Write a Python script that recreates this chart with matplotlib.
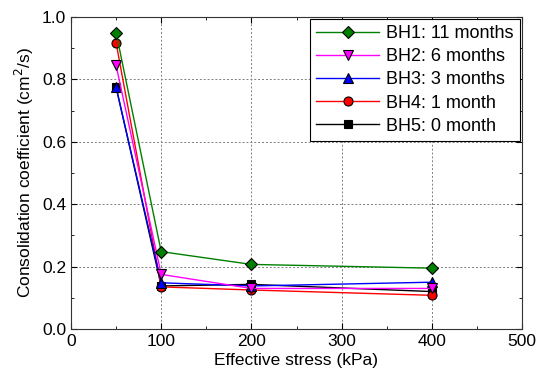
import matplotlib
matplotlib.use('Agg')
import matplotlib.pyplot as plt
from matplotlib.ticker import MultipleLocator, FormatStrFormatter

plt.rcParams['font.family'] = ['Liberation Sans', 'DejaVu Sans']

stress = [50, 100, 200, 400]
bh1 = [0.950, 0.248, 0.207, 0.195]
bh2 = [0.845, 0.175, 0.130, 0.130]
bh3 = [0.775, 0.148, 0.138, 0.150]
bh4 = [0.917, 0.135, 0.125, 0.108]
bh5 = [0.775, 0.138, 0.143, 0.120]

labels = ['BH1: 11 months', 'BH2: 6 months', 'BH3: 3 months', 'BH4: 1 month', 'BH5: 0 month']
series = [bh1, bh2, bh3, bh4, bh5]
colors = ['green', 'magenta', 'blue', 'red', 'black']
markers = ['D', 'v', '^', 'o', 's']
msizes = [6.5, 7.5, 7.5, 6.5, 5.5]

fig = plt.figure(figsize=(5.36, 3.78), dpi=100)
ax = fig.add_axes([71 / 536, 49 / 378, 451 / 536, 312 / 378])

# dibujar de atras hacia adelante para que BH1 quede encima
for i in reversed(range(len(series))):
    ax.plot(stress, series[i], color=colors[i], marker=markers[i], markersize=msizes[i],
            markerfacecolor=colors[i], markeredgecolor='black', markeredgewidth=0.8,
            linewidth=1, label=labels[i], zorder=3 + (len(series) - i))

ax.set_xlim(0, 500)
ax.set_ylim(0, 1.0)
ax.xaxis.set_major_locator(MultipleLocator(100))
ax.xaxis.set_minor_locator(MultipleLocator(50))
ax.yaxis.set_major_locator(MultipleLocator(0.2))
ax.yaxis.set_minor_locator(MultipleLocator(0.1))
ax.yaxis.set_major_formatter(FormatStrFormatter('%.1f'))
ax.tick_params(which='both', direction='in', top=True, right=True, labelsize=12.5)
ax.tick_params(which='major', length=4)
ax.tick_params(which='minor', length=2.5)
ax.grid(True, which='major', linestyle=(0, (2, 2)), color='gray', linewidth=0.7)
for s in ax.spines.values():
    s.set_color('#333333')

ax.set_xlabel('Effective stress (kPa)', fontsize=12.5, labelpad=3)
ax.set_ylabel('Consolidation coefficient (cm$^2$/s)', fontsize=12.5, labelpad=4)

handles, labs = ax.get_legend_handles_labels()
order = [labs.index(l) for l in labels]
leg = ax.legend([handles[k] for k in order], labels, loc='upper right', fontsize=13,
                fancybox=False, framealpha=1, edgecolor='black', handlelength=3.5,
                borderaxespad=0.1, labelspacing=0.34, handletextpad=0.4, borderpad=0.35)
leg.get_frame().set_linewidth(0.8)

plt.savefig('out.png', dpi=100)
